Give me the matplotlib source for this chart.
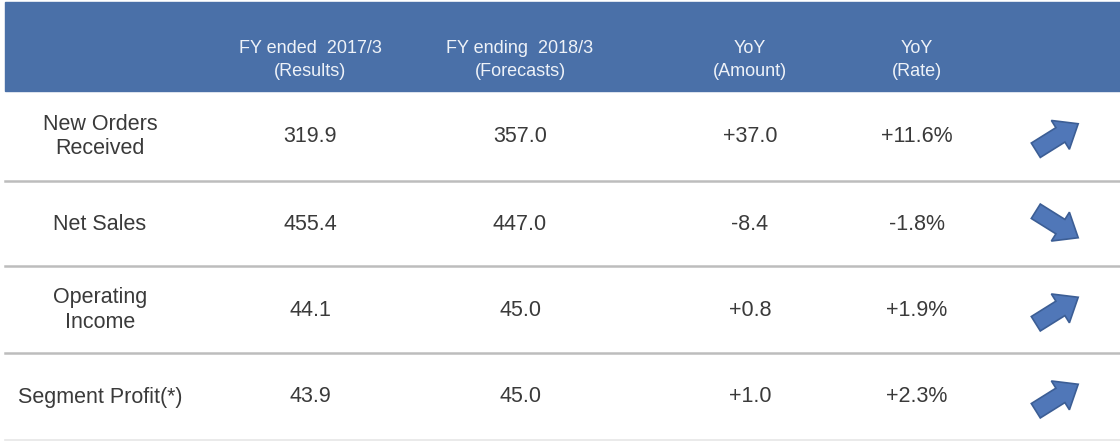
import numpy as np
import matplotlib
matplotlib.use("Agg")
import matplotlib.pyplot as plt
from matplotlib.patches import Rectangle, Polygon

plt.rcParams['font.family'] = ['Liberation Sans', 'DejaVu Sans']

headers = ["FY ended  2017/3\n(Results)", "FY ending  2018/3\n(Forecasts)",
           "YoY\n(Amount)", "YoY\n(Rate)"]
row_labels = ["New Orders\nReceived", "Net Sales", "Operating\nIncome", "Segment Profit(*)"]
fy2017 = [319.9, 455.4, 44.1, 43.9]
fy2018 = [357.0, 447.0, 45.0, 45.0]
yoy_amount = [37.0, -8.4, 0.8, 1.0]
yoy_rate = [11.6, -1.8, 1.9, 2.3]

W, H = 1120, 442
fig = plt.figure(figsize=(W / 100, H / 100), dpi=100)
ax = fig.add_axes([0, 0, 1, 1])
ax.set_xlim(0, W)
ax.set_ylim(H, 0)
ax.axis('off')

header_color = '#4A70A8'
text_color = '#3A3A3A'
arrow_face = '#5077B8'
arrow_edge = '#3C5E95'
line_color = '#BDBDBD'

x0, x1 = 5, 1120
hy0, hy1 = 2, 91
ax.add_patch(Rectangle((x0, hy0), x1 - x0, hy1 - hy0, color=header_color, zorder=1))

col_x = [310, 520, 750, 917]
label_x = 100
arrow_x = 1057
for cx, h in zip(col_x, headers):
    ax.text(cx, 60, h, ha='center', va='center', color='#EEF2F8', fontsize=13,
            linespacing=1.45, zorder=2)

body_fs = 15.5
row_bounds = [91, 181, 266, 353, 440]
for i in range(len(row_labels)):
    yc = (row_bounds[i] + row_bounds[i + 1]) / 2 + 0.5
    ax.text(label_x, yc, row_labels[i], ha='center', va='center', color=text_color,
            fontsize=body_fs, linespacing=1.2)
    ax.text(col_x[0], yc, f"{fy2017[i]:.1f}", ha='center', va='center', color=text_color, fontsize=body_fs)
    ax.text(col_x[1], yc, f"{fy2018[i]:.1f}", ha='center', va='center', color=text_color, fontsize=body_fs)
    ax.text(col_x[2], yc, f"{yoy_amount[i]:+.1f}", ha='center', va='center', color=text_color, fontsize=body_fs)
    ax.text(col_x[3], yc, f"{yoy_rate[i]:+.1f}%", ha='center', va='center', color=text_color, fontsize=body_fs)

    # block arrow
    ang = np.deg2rad(32) * (1 if yoy_amount[i] > 0 else -1)
    L, sw, hw, hl = 50, 17, 34, 21
    pts = np.array([[-L / 2, -sw / 2], [L / 2 - hl, -sw / 2], [L / 2 - hl, -hw / 2],
                    [L / 2, 0], [L / 2 - hl, hw / 2], [L / 2 - hl, sw / 2], [-L / 2, sw / 2]])
    R = np.array([[np.cos(ang), -np.sin(ang)], [np.sin(ang), np.cos(ang)]])
    p = pts @ R.T
    p[:, 1] = -p[:, 1]
    p += [arrow_x, yc + 0.5]
    ax.add_patch(Polygon(p, closed=True, facecolor=arrow_face, edgecolor=arrow_edge, lw=1.2, zorder=3))

for yb in row_bounds[1:4]:
    ax.plot([x0, x1], [yb, yb], color=line_color, lw=1.8, zorder=2)
ax.plot([x0, x1], [row_bounds[4], row_bounds[4]], color='#E6E6E6', lw=1.2, zorder=2)

fig.savefig('out.png', dpi=100)
